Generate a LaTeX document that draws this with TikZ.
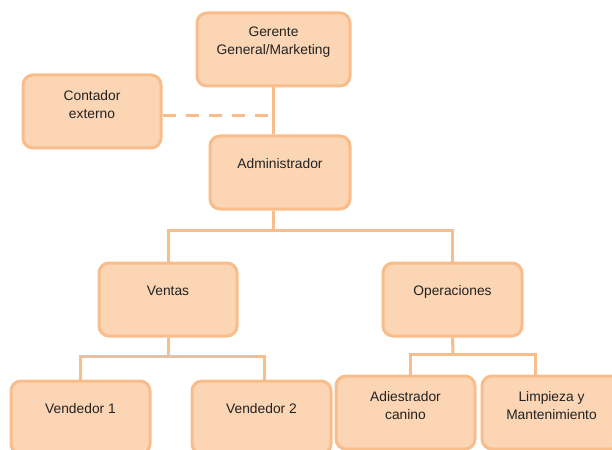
\documentclass[tikz,border=0pt]{standalone}
\usepackage{fontspec}
\setmainfont{Liberation Sans}
\definecolor{boxfill}{HTML}{FBD5B4}
\definecolor{boxline}{HTML}{F9BD8C}
\definecolor{txtcol}{HTML}{222222}
\begin{document}
\begin{tikzpicture}[x=1pt,y=-1pt,
  box/.style={draw=boxline, fill=boxfill, line width=3pt, rounded corners=10pt,
    minimum width=138pt, minimum height=73pt, inner sep=0pt},
  lbl/.style={text=txtcol, align=center, font=\fontsize{13.8}{18}\selectfont, anchor=center, yshift=-31pt},
  lblone/.style={text=txtcol, font=\fontsize{13.8}{18}\selectfont, anchor=base, inner sep=0pt, yshift=-34pt},
  conn/.style={draw=boxline, line width=3pt},
  dashconn/.style={conn, dash pattern=on 13pt off 10pt}]
\useasboundingbox (0,0) rectangle (612,449);
\clip (0,0) rectangle (612,449);
\node[box, minimum width=153pt, label={[lbl]north:Gerente\\General/Marketing}] (g) at (273.5,49.5) {};
\node[box, label={[lbl]north:Contador\\externo}] (c) at (92,111.5) {};
\node[box, minimum width=140pt, label={[lblone]north:Administrador}] (a) at (280,172.5) {};
\node[box, label={[lblone]north:Ventas}] (v) at (168,299.5) {};
\node[box, minimum width=139pt, label={[lblone]north:Operaciones}] (o) at (452.5,299.5) {};
\node[box, minimum width=139pt, label={[lblone]north:Vendedor 1}] (v1) at (80.5,417.5) {};
\node[box, minimum width=139pt, label={[lblone]north:Vendedor 2}] (v2) at (261.5,417.5) {};
\node[box, minimum width=139pt, label={[lbl]north:Adiestrador\\canino}] (ad) at (405.5,412.5) {};
\node[box, minimum width=139pt, label={[lbl]north:Limpieza y\\Mantenimiento}] (li) at (551.5,412.5) {};
\coordinate (b1) at (273.5,230);
\coordinate (b2) at (168,356);
\coordinate (b3) at (453,354);
\coordinate (dend) at (270,116);
\draw[conn] (g.south) -- (g.south |- a.north);
\draw[conn] (g.south |- a.south) -- (b1);
\draw[conn] (v.north) |- (b1) -| (o.north);
\draw[conn] (v.south) -- (b2);
\draw[conn] (v1.north) |- (b2) -| ([xshift=3pt]v2.north);
\draw[conn] (o.south) -- (b3);
\draw[conn] ([xshift=5pt]ad.north) |- (b3) -| ([xshift=-16pt]li.north);
\draw[dashconn] (c.east |- dend) -- (dend);
\end{tikzpicture}
\end{document}
